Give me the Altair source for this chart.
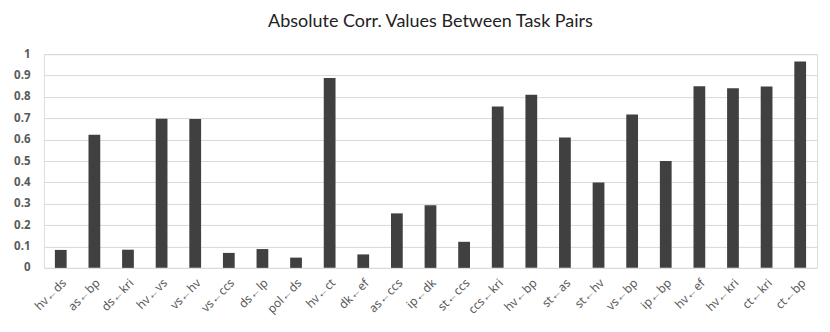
import altair as alt
import pandas as pd

pairs = ["hv←ds", "as←bp", "ds←kri", "hv←vs", "vs←hv", "vs←ccs", "ds←lp", "pol←ds",
         "hv←ct", "dk←ef", "as←ccs", "ip←dk", "st←ccs", "ccs←kri", "hv←bp", "st←as",
         "st←hv", "vs←bp", "ip←bp", "hv←ef", "hv←kri", "ct←kri", "ct←bp"]
values = [0.084, 0.623, 0.085, 0.698, 0.697, 0.07, 0.088, 0.048,
          0.888, 0.063, 0.255, 0.293, 0.122, 0.755, 0.81, 0.61,
          0.40, 0.717, 0.50, 0.85, 0.84, 0.848, 0.965]
y_ticks = [0, 0.1, 0.2, 0.3, 0.4, 0.5, 0.6, 0.7, 0.8, 0.9, 1]

df = pd.DataFrame({"pair": pairs, "value": values})

chart = alt.Chart(df).mark_bar(color="#404040").encode(
    x=alt.X("pair:N", sort=pairs, title=None,
            scale=alt.Scale(paddingInner=0.65, paddingOuter=0.325),
            axis=alt.Axis(labelAngle=-45, ticks=False, domain=False,
                          labelFont="Noto Sans", labelFontSize=12, labelColor="#595959",
                          labelPadding=9)),
    y=alt.Y("value:Q", title=None,
            scale=alt.Scale(domain=[0, 1], nice=False),
            axis=alt.Axis(values=y_ticks, ticks=False, domain=False,
                          labelFont="Open Sans", labelFontSize=11.5, labelFontWeight="bold",
                          labelColor="#595959", labelPadding=14,
                          gridColor="#d9d9d9", gridWidth=1,
                          labelExpr="format(datum.value, '.1~f')")),
).properties(
    width=774, height=214,
    title=alt.TitleParams("Absolute Corr. Values Between Task Pairs",
                          font="Lato", fontSize=18, fontWeight="normal",
                          color="#222222", offset=17)
).configure_view(stroke=None).configure(background="white")

chart.save("out.html", embed_options={"renderer": "svg", "actions": False})
